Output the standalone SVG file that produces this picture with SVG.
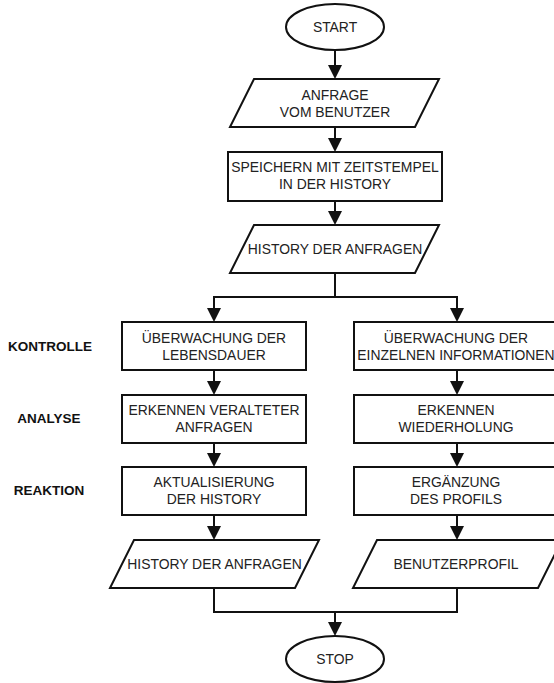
<svg xmlns="http://www.w3.org/2000/svg" width="554" height="683" viewBox="0 0 554 683">
  <defs>
    <marker id="arrow" viewBox="0 0 14 14" refX="11" refY="7" markerWidth="14" markerHeight="14" markerUnits="userSpaceOnUse" orient="auto">
      <path d="M0,0 L14,7 L0,14 Z" fill="#111"/>
    </marker>
    <style>
      .shape { fill: #fff; stroke: #111; stroke-width: 2; }
      .link { fill: none; stroke: #111; stroke-width: 2; }
      .arr { marker-end: url(#arrow); }
      text { font-family: "Liberation Sans", Arial, sans-serif; font-size: 13.9px; fill: #222; text-anchor: middle; }
      .phase { font-weight: bold; font-size: 13.5px; fill: #111; }
    </style>
  </defs>
  <rect width="554" height="683" fill="#fff"/>

  <!-- connectors -->
  <g id="connectors">
    <path class="link arr" d="M335,50 V76"/>
    <path class="link arr" d="M335,127 V149"/>
    <path class="link arr" d="M335,201 V222"/>
    <path class="link" d="M335,273 V297 M214,297 H457"/>
    <path class="link arr" d="M214,296 V319"/>
    <path class="link arr" d="M457,296 V319"/>
    <path class="link arr" d="M214,370 V392"/>
    <path class="link arr" d="M457,370 V392"/>
    <path class="link arr" d="M214,443 V464"/>
    <path class="link arr" d="M457,443 V464"/>
    <path class="link arr" d="M214,515 V537"/>
    <path class="link arr" d="M457,515 V537"/>
    <path class="link" d="M214,588 V612 H457 V588"/>
    <path class="link arr" d="M335,612 V633"/>
  </g>

  <!-- phase labels -->
  <g id="phases">
    <text class="phase" x="50" y="351">KONTROLLE</text>
    <text class="phase" x="49" y="423">ANALYSE</text>
    <text class="phase" x="49" y="495">REAKTION</text>
  </g>

  <g id="start">
    <ellipse class="shape" cx="335" cy="27" rx="49" ry="23"/>
    <text x="335" y="32">START</text>
  </g>

  <g id="anfrage">
    <polygon class="shape" points="254,79 439,79 415,127 230,127"/>
    <text x="335" y="99.5">ANFRAGE</text>
    <text x="335" y="116.5">VOM BENUTZER</text>
  </g>

  <g id="speichern">
    <rect class="shape" x="228" y="152" width="214" height="49"/>
    <text x="335" y="172">SPEICHERN MIT ZEITSTEMPEL</text>
    <text x="335" y="189">IN DER HISTORY</text>
  </g>

  <g id="history-top">
    <polygon class="shape" points="254,225 439,225 415,273 230,273"/>
    <text x="335" y="254">HISTORY DER ANFRAGEN</text>
  </g>

  <g id="lebensdauer">
    <rect class="shape" x="122" y="322" width="184" height="48"/>
    <text x="214" y="342.5">ÜBERWACHUNG DER</text>
    <text x="214" y="359.5">LEBENSDAUER</text>
  </g>

  <g id="einzelinfo">
    <rect class="shape" x="354" y="322" width="206" height="48"/>
    <text x="456" y="342.5">ÜBERWACHUNG DER</text>
    <text x="456" y="359.5">EINZELNEN INFORMATIONEN</text>
  </g>

  <g id="veraltet">
    <rect class="shape" x="122" y="395" width="184" height="48"/>
    <text x="214" y="415">ERKENNEN VERALTETER</text>
    <text x="214" y="432">ANFRAGEN</text>
  </g>

  <g id="wiederholung">
    <rect class="shape" x="354" y="395" width="206" height="48"/>
    <text x="456" y="415">ERKENNEN</text>
    <text x="456" y="432">WIEDERHOLUNG</text>
  </g>

  <g id="aktualisierung">
    <rect class="shape" x="122" y="467" width="184" height="48"/>
    <text x="214" y="487">AKTUALISIERUNG</text>
    <text x="214" y="504">DER HISTORY</text>
  </g>

  <g id="ergaenzung">
    <rect class="shape" x="354" y="467" width="206" height="48"/>
    <text x="456" y="487">ERGÄNZUNG</text>
    <text x="456" y="504">DES PROFILS</text>
  </g>

  <g id="history-bottom">
    <polygon class="shape" points="134,540 319,540 295,588 110,588"/>
    <text x="214.5" y="569">HISTORY DER ANFRAGEN</text>
  </g>

  <g id="profil">
    <polygon class="shape" points="377,540 562,540 538,588 353,588"/>
    <text x="456" y="569">BENUTZERPROFIL</text>
  </g>

  <g id="stop">
    <ellipse class="shape" cx="335" cy="659" rx="49" ry="23"/>
    <text x="335" y="664">STOP</text>
  </g>
</svg>
